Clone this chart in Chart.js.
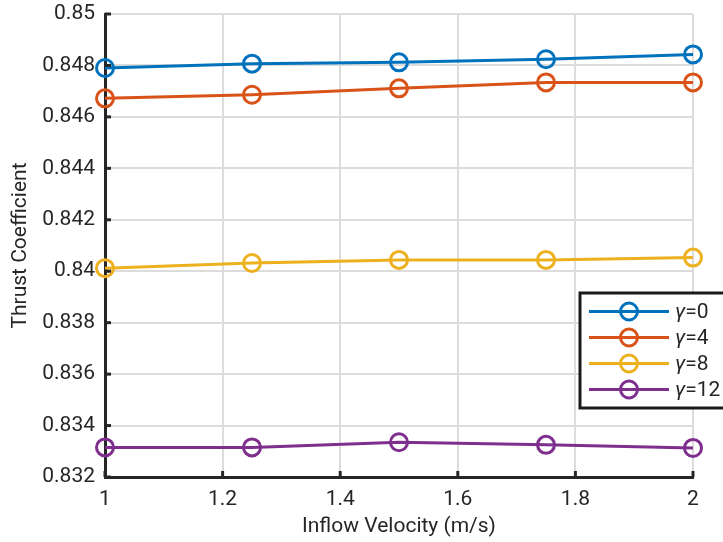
<!DOCTYPE html>
<html>
<head>
<meta charset="utf-8">
<script src="https://cdn.jsdelivr.net/npm/chart.js@4/dist/chart.umd.min.js"></script>
<style>
html,body{margin:0;padding:0;background:#fff;}
canvas{display:block;}
</style>
</head>
<body>
<canvas id="c" width="723" height="542"></canvas>
<script>
const velocities = [1, 1.25, 1.5, 1.75, 2];
const seriesNames = ['γ=0', 'γ=4', 'γ=8', 'γ=12'];
const gamma0 = [0.8479, 0.84807, 0.84812, 0.84824, 0.84843];
const gamma4 = [0.84672, 0.84686, 0.84711, 0.84734, 0.84734];
const gamma8 = [0.84012, 0.84032, 0.84044, 0.84044, 0.84053];
const gamma12 = [0.83315, 0.83315, 0.83335, 0.83325, 0.83313];
const colors = ['#0072BD', '#D95319', '#EDB120', '#7E2F8E'];

const allSeries = [gamma0, gamma4, gamma8, gamma12];
const datasets = allSeries.map((vals, i) => ({
  label: seriesNames[i],
  data: velocities.map((v, j) => ({x: v, y: vals[j]})),
  borderColor: colors[i],
  backgroundColor: 'rgba(0,0,0,0)',
  pointBackgroundColor: 'rgba(0,0,0,0)',
  pointBorderColor: colors[i],
  pointRadius: 8.5,
  pointBorderWidth: 3,
  borderWidth: 3,
  tension: 0,
  clip: false
}));

const FONT = 'Roboto, "Liberation Sans", sans-serif';
const fmt = v => String(Number(Number(v).toFixed(3)));

const decorPlugin = {
  id: 'decor',
  afterDraw(chart) {
    const ctx = chart.ctx;
    const xs = chart.scales.x, ys = chart.scales.y;
    const area = chart.chartArea;
    ctx.save();
    ctx.strokeStyle = '#262626';
    ctx.lineWidth = 3;
    xs.ticks.forEach(t => {
      const px = xs.getPixelForValue(t.value);
      ctx.beginPath(); ctx.moveTo(px, area.bottom); ctx.lineTo(px, area.bottom - 6); ctx.stroke();
    });
    ys.ticks.forEach(t => {
      const py = ys.getPixelForValue(t.value);
      ctx.beginPath(); ctx.moveTo(area.left, py); ctx.lineTo(area.left + 6, py); ctx.stroke();
    });
    // legend
    const lx = 580, ly = 293, lw = 150, lh = 115;
    ctx.fillStyle = '#fff';
    ctx.fillRect(lx, ly, lw, lh);
    ctx.lineWidth = 3;
    ctx.strokeStyle = '#1a1a1a';
    ctx.strokeRect(lx, ly, lw, lh);
    chart.data.datasets.forEach((ds, i) => {
      const y = 311.5 + i * 26;
      ctx.strokeStyle = ds.borderColor;
      ctx.lineWidth = 3;
      ctx.beginPath(); ctx.moveTo(589, y); ctx.lineTo(669, y); ctx.stroke();
      ctx.beginPath(); ctx.arc(629, y, 8.5, 0, Math.PI * 2); ctx.stroke();
      ctx.fillStyle = '#262626';
      ctx.textBaseline = 'middle';
      ctx.textAlign = 'left';
      ctx.font = 'italic 21px ' + FONT;
      const g = ds.label.charAt(0);
      ctx.fillText(g, 675, y + 1);
      const gw = ctx.measureText(g).width;
      ctx.font = '21px ' + FONT;
      ctx.fillText(ds.label.slice(1), 675 + gw, y + 1);
    });
    ctx.restore();
  }
};

new Chart(document.getElementById('c'), {
  type: 'line',
  data: { datasets },
  options: {
    responsive: false,
    animation: false,
    events: [],
    layout: { padding: { left: 0, top: 14, right: 30, bottom: 0 } },
    plugins: { legend: { display: false }, tooltip: { enabled: false } },
    scales: {
      x: {
        type: 'linear',
        min: 1, max: 2,
        afterFit(s) { s.height = 65; s.paddingLeft = 0; s.paddingRight = 0; },
        ticks: { stepSize: 0.2, callback: fmt, color: '#262626', font: { family: FONT, size: 21 }, padding: 10, maxRotation: 0 },
        grid: { color: '#dcdcdc', lineWidth: 2, drawTicks: false },
        border: { display: true, color: '#262626', width: 3 },
        title: { display: true, text: 'Inflow Velocity (m/s)', color: '#262626', font: { family: FONT, size: 21 }, padding: { top: 0, bottom: 3 } }
      },
      y: {
        min: 0.832, max: 0.85,
        afterFit(s) { s.width = 105; s.paddingTop = 0; s.paddingBottom = 0; },
        ticks: { stepSize: 0.002, callback: fmt, color: '#262626', font: { family: FONT, size: 21 }, padding: 10 },
        grid: { color: '#dcdcdc', lineWidth: 2, drawTicks: false },
        border: { display: true, color: '#262626', width: 3 },
        title: { display: true, text: 'Thrust Coefficient', color: '#262626', font: { family: FONT, size: 21 }, padding: { top: 8, bottom: 0 } }
      }
    }
  },
  plugins: [decorPlugin]
});
</script>
</body>
</html>
